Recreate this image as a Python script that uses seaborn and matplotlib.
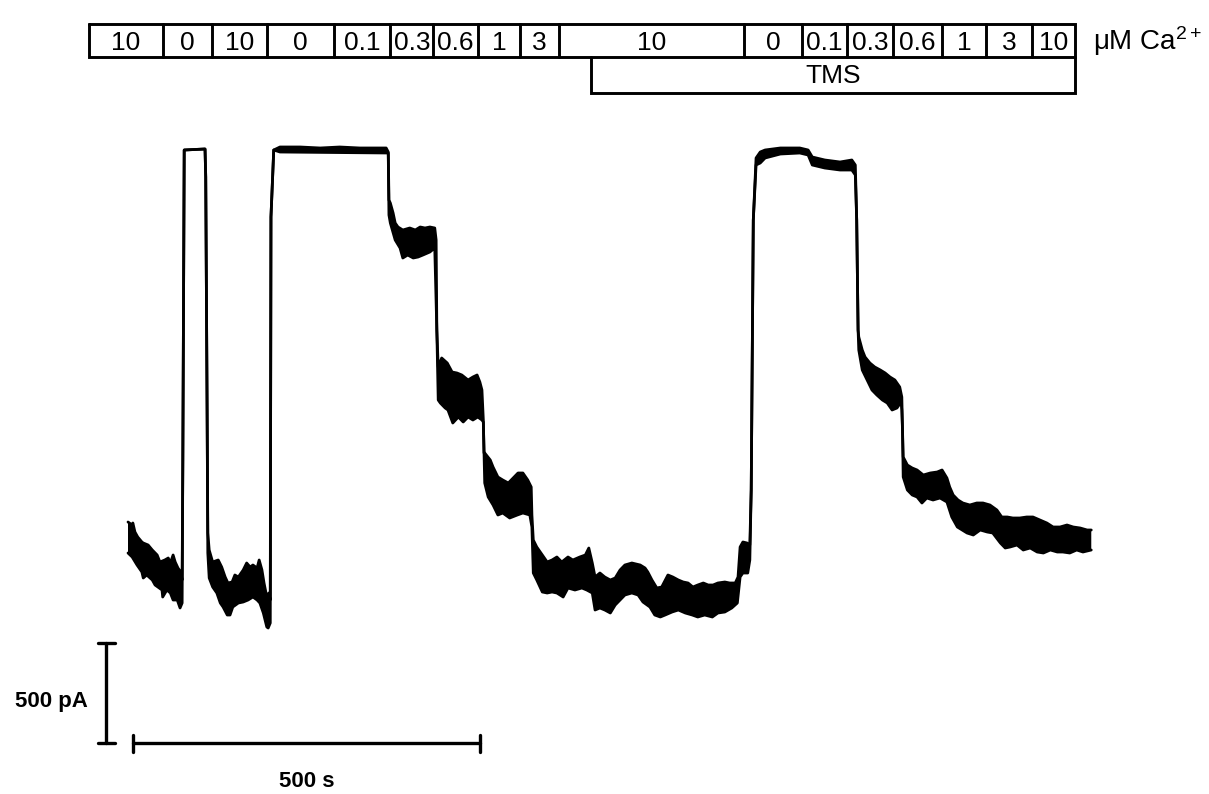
import matplotlib
matplotlib.use("Agg")
import matplotlib.pyplot as plt
import matplotlib.transforms as mtransforms
import numpy as np
import pandas as pd
import seaborn as sns

# ---- whole-cell current record: upper and lower edge of the noisy trace
# time in s from the start of the record, current in pA
upper_t = [0, 6, 7, 10, 14, 20, 22, 29, 35, 42, 46, 53, 58, 61, 65, 68, 72, 76, 78, 79, 81,
           111, 112, 114, 115, 117, 122, 130, 135, 140, 144, 150, 154, 159, 166, 171, 176, 180,
           186, 189, 193, 196, 200, 203, 205, 206, 210,
           219, 248, 277, 305, 334, 372, 375, 376, 378, 382, 385, 389, 396, 406, 414, 421, 428,
           435, 442, 444, 445, 447, 452, 460, 467, 474, 481, 490, 497, 503, 507, 510, 512, 513,
           514, 522, 526, 533, 540, 548, 555, 562, 569, 576, 581, 582, 584,
           589, 597, 604, 611, 618, 625, 634, 641, 651, 659, 664, 669, 673, 680, 687, 695, 702,
           709, 716, 726, 738, 745, 749, 755, 762, 769, 778, 785, 793, 800, 807, 814, 821, 829,
           836, 843, 850, 860, 867, 875, 879, 882, 886, 892, 896, 898, 901,
           905, 911, 918, 940, 968, 980, 986, 1004, 1026, 1043, 1048, 1050, 1052,
           1053, 1058, 1062, 1069, 1076, 1084, 1091, 1098, 1105, 1112, 1115, 1116, 1117,
           1123, 1130, 1137, 1146, 1156, 1166, 1173, 1180, 1184, 1189, 1196, 1203, 1213, 1223,
           1232, 1242, 1252, 1259, 1267, 1275, 1285, 1295, 1304, 1314, 1324, 1333, 1343, 1353,
           1362, 1372, 1382, 1388]
upper_pa = [640, 625, 635, 590, 565, 540, 535, 525, 500, 475, 440, 450, 460, 435, 475, 440, 410,
            390, 350, 950, 2500,
            2505, 2365, 1215, 585, 500, 440, 450, 415, 365, 335, 340, 375, 365, 400, 435, 415, 425,
            410, 450, 400, 335, 265, 285, 250, 2165, 2500,
            2515, 2515, 2510, 2515, 2510, 2510, 2490, 2250, 2235, 2185, 2135, 2115, 2100, 2110,
            2100, 2115, 2110,
            2115, 2110, 2050, 1600, 1415, 1460, 1435, 1390, 1385, 1375, 1350, 1365, 1375, 1340,
            1300, 1150, 985,
            985, 950, 915, 865, 850, 835, 860, 885, 885, 850, 815, 675, 550,
            515, 475, 440, 450, 465, 440, 465, 450, 465, 475, 510, 435, 365, 385, 365, 350, 360,
            400, 425, 435, 425, 410, 390, 350, 310, 315, 375, 365, 350, 340, 335, 315, 325, 335,
            325, 325, 335, 340, 335, 335, 365, 515, 540, 535, 525, 800, 2150,
            2460, 2490, 2500, 2510, 2510, 2500, 2465, 2450, 2440, 2450, 2425, 2150, 1600,
            1565, 1500, 1465, 1435, 1415, 1400, 1385, 1365, 1350, 1315, 1265, 1100, 965,
            925, 910, 900, 875, 885, 890, 900, 860, 815, 775, 750, 735, 725, 735,
            735, 725, 700, 665, 665, 660, 660, 665, 665, 650, 635, 615, 615, 625,
            615, 610, 600, 600]

lower_t = [0, 6, 13, 20, 22, 27, 35, 39, 49, 50, 56, 61, 65, 71, 75, 78, 79, 81,
           111, 112, 114, 115, 117, 122, 128, 133, 137, 143, 147, 151, 159, 166, 173, 180, 186,
           190, 195, 200, 202, 205, 206, 210,
           219, 372, 375, 376, 378, 385, 392, 396, 403, 411, 418, 425, 435, 442, 445,
           447, 450, 457, 461, 468, 476, 483, 490, 497, 504, 510, 512,
           514, 519, 526, 533, 540, 550, 561, 569, 579, 582, 584,
           589, 597, 604, 611, 618, 627, 634, 644, 654, 661, 669, 673, 680, 687, 695, 702, 709,
           716, 726, 735, 742, 752, 759, 767, 774, 784, 793, 803, 813, 821, 831, 842, 850, 860,
           870, 878, 882, 886, 893, 896, 898, 901,
           905, 911, 918, 940, 968, 980, 986, 1004, 1026, 1043, 1048, 1050, 1052,
           1053, 1058, 1065, 1072, 1079, 1087, 1094, 1101, 1108, 1114, 1115, 1116, 1117,
           1123, 1130, 1137, 1144, 1151, 1160, 1170, 1180, 1187, 1195, 1202, 1209, 1218, 1228,
           1238, 1246, 1257, 1264, 1271, 1281, 1290, 1300, 1310, 1319, 1329, 1339, 1347, 1357,
           1367, 1376, 1388]
lower_pa = [485, 465, 425, 390, 360, 375, 350, 325, 300, 265, 300, 285, 250, 250, 210, 235, 950,
            2500,
            2505, 2365, 1200, 485, 360, 315, 285, 235, 215, 175, 175, 215, 235, 240, 250, 265, 250,
            235, 185, 115, 110, 135, 2165, 2500,
            2490, 2485, 2485, 2175, 2135, 2050, 2010, 1960, 1975, 1960, 1965, 1975, 1990, 2010,
            1600,
            1250, 1235, 1210, 1200, 1135, 1165, 1140, 1165, 1150, 1165, 1150, 1140,
            835, 765, 725, 675, 685, 660, 675, 685, 675, 615, 385,
            350, 290, 285, 290, 285, 265, 310, 300, 310, 300, 285, 200, 210, 200, 185, 225, 250,
            275, 285, 275, 240, 215, 175, 165, 175, 190, 200, 185, 175, 165, 175, 165, 185, 190,
            210, 235, 365, 385, 385, 450, 800, 2150,
            2425, 2435, 2460, 2480, 2485, 2475, 2425, 2410, 2400, 2400, 2375, 2150, 1600,
            1500, 1400, 1350, 1300, 1275, 1250, 1235, 1200, 1210, 1240, 1200, 1100, 865,
            800, 775, 765, 735, 760, 750, 760, 740, 665, 615, 600, 585, 575, 600,
            590, 585, 535, 510, 515, 525, 500, 510, 490, 485, 500, 490, 490, 485,
            500, 490, 500]

# ---- perfusion protocol: exchange times (s) and bath Ca2+ (uM)
ca_edges_s = [-56, 50, 121, 200, 297, 378, 440, 504, 565, 621,
              888, 971, 1036, 1102, 1173, 1236, 1303, 1365]
ca_labels = ["10", "0", "10", "0", "0.1", "0.3", "0.6", "1", "3",
             "10", "0", "0.1", "0.3", "0.6", "1", "3", "10"]
tms_span_s = [667, 1365]
tms_label = "TMS"

# ---- calibration bars
scale_time_s = 500
scale_current_pa = 500

sns.set_theme(style="white")
plt.rcParams["mathtext.fontset"] = "custom"
plt.rcParams["mathtext.rm"] = "Liberation Sans"
plt.rcParams["mathtext.it"] = "Liberation Sans:italic"
plt.rcParams["mathtext.bf"] = "Liberation Sans:bold"
plt.rcParams["text.color"] = "black"

FONT = ["Liberation Sans", "DejaVu Sans"]

W, H = 1209, 794
fig = plt.figure(figsize=(W / 100, H / 100), dpi=100)
ax = fig.add_axes([0, 0, 1, 1])
ax.set_axis_off()

# one data frame spanning the whole canvas (x in s, y in pA)
X0, Y0 = 128, 650
PX_PER_S, PX_PER_PA = 0.694, 0.2
ax.set_xlim((0 - X0) / PX_PER_S, (W - X0) / PX_PER_S)
ax.set_ylim((Y0 - H) / PX_PER_PA, Y0 / PX_PER_PA)


def fy(py):
    """Vertical pixel position -> axes fraction."""
    return 1 - py / H


# noise band between the two edges, then the edges themselves
ax.fill(np.r_[upper_t, lower_t[::-1]], np.r_[upper_pa, lower_pa[::-1]],
        color="black", linewidth=0)
edges = pd.concat([
    pd.DataFrame({"t": upper_t, "pA": upper_pa, "edge": "upper"}),
    pd.DataFrame({"t": lower_t, "pA": lower_pa, "edge": "lower"}),
])
sns.lineplot(data=edges, x="t", y="pA", units="edge", estimator=None, sort=False,
             ax=ax, color="black", lw=2.0, legend=False)
ax.set_xlabel("")
ax.set_ylabel("")

# ---- perfusion bar
blend = mtransforms.blended_transform_factory(ax.transData, ax.transAxes)
top, bot, tms_bot = fy(23.5), fy(56.5), fy(92.5)
lw_box = 2.1
ax.plot([ca_edges_s[0], ca_edges_s[-1], ca_edges_s[-1], ca_edges_s[0], ca_edges_s[0]],
        [top, top, bot, bot, top], transform=blend, color="black", lw=lw_box,
        solid_joinstyle="miter", clip_on=False)
for e in ca_edges_s[1:-1]:
    ax.plot([e, e], [top, bot], transform=blend, color="black", lw=lw_box, clip_on=False)
for left, right, lab in zip(ca_edges_s[:-1], ca_edges_s[1:], ca_labels):
    ax.text((left + right) / 2, fy(50), lab, transform=blend, ha="center",
            va="baseline", fontsize=19, family=FONT, color="black")
ax.text(ca_edges_s[-1] + 25, fy(50), "\u03bcM Ca$^{2+}$", transform=blend, ha="left",
        va="baseline", fontsize=20, family=FONT, color="black")

t0, t1 = tms_span_s
ax.plot([t0, t0, t1, t1], [bot, tms_bot, tms_bot, bot], transform=blend,
        color="black", lw=lw_box, solid_joinstyle="miter", clip_on=False)
ax.text((t0 + t1) / 2, fy(83), tms_label, transform=blend, ha="center",
        va="baseline", fontsize=19, family=FONT, color="black")

# ---- calibration bars
bar_t0 = (133 - X0) / PX_PER_S
bar_i0 = (Y0 - 743) / PX_PER_PA
vbar_t = (106 - X0) / PX_PER_S
cap_t = 8.5 / PX_PER_S
cap_i = 8.5 / PX_PER_PA
lw_bar = 2.4
ax.plot([bar_t0, bar_t0 + scale_time_s], [bar_i0, bar_i0], color="black", lw=lw_bar)
for tt in (bar_t0, bar_t0 + scale_time_s):
    ax.plot([tt, tt], [bar_i0 - cap_i, bar_i0 + cap_i], color="black", lw=lw_bar)
ax.plot([vbar_t, vbar_t], [bar_i0, bar_i0 + scale_current_pa], color="black", lw=lw_bar)
for ii in (bar_i0, bar_i0 + scale_current_pa):
    ax.plot([vbar_t - cap_t, vbar_t + cap_t], [ii, ii], color="black", lw=lw_bar)

ax.text((51 - X0) / PX_PER_S, (Y0 - 707) / PX_PER_PA, f"{scale_current_pa} pA",
        ha="center", va="baseline", fontsize=16, fontweight="bold", family=FONT,
        color="black")
ax.text(bar_t0 + scale_time_s / 2, (Y0 - 787) / PX_PER_PA, f"{scale_time_s} s",
        ha="center", va="baseline", fontsize=16, fontweight="bold", family=FONT,
        color="black")

fig.savefig("out.png", dpi=100, facecolor="white")
